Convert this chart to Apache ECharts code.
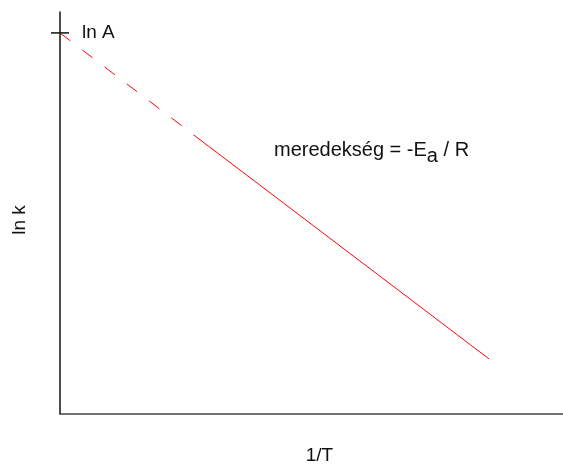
<!DOCTYPE html>
<html>
<head>
<meta charset="utf-8">
<script src="https://cdn.jsdelivr.net/npm/echarts@6/dist/echarts.min.js"></script>
<style>
  html, body { margin: 0; padding: 0; background: #fff; }
  #main { width: 563px; height: 465px; }
</style>
</head>
<body>
<div id="main"></div>
<script>
// Arrhenius-ábra adatai (tetszőleges egységek)
var lnA = 0.948;
var extrapolated = [[0, 0.948], [0.266, 0.694]];   // szaggatott rész
var measured = [[0.266, 0.694], [0.853, 0.137]];    // folytonos rész
var interceptPoint = [[0, lnA]];

var myChart = echarts.init(document.getElementById('main'));

var font = 'Liberation Sans, Arial, sans-serif';
var txt = '#111';

var option = {
    animation: false,
    grid: { left: 60, right: 0, top: 12, bottom: 51, outerBoundsMode: 'none', containLabel: false },
    xAxis: {
        type: 'value',
        min: 0,
        max: 1,
        name: '1/T',
        nameLocation: 'middle',
        nameGap: 32,
        nameTextStyle: { fontFamily: font, fontSize: 19, color: txt, padding: [0, 0, 0, 16] },
        axisLine: { show: true, lineStyle: { color: '#444', width: 1.5 } },
        axisTick: { show: false },
        axisLabel: { show: false },
        splitLine: { show: false }
    },
    yAxis: {
        type: 'value',
        min: 0,
        max: 1,
        name: 'ln k',
        nameLocation: 'middle',
        nameRotate: 90,
        nameGap: 31,
        nameTextStyle: { fontFamily: font, fontSize: 19, color: txt, padding: [0, 14, 0, 0] },
        axisLine: { show: true, lineStyle: { color: '#111', width: 1.5 } },
        axisTick: { show: false },
        axisLabel: { show: false },
        splitLine: { show: false }
    },
    series: [
        {
            type: 'line',
            data: extrapolated,
            symbol: 'none',
            lineStyle: { color: '#ff0000', width: 1, type: [13, 15] }
        },
        {
            type: 'line',
            data: measured,
            symbol: 'none',
            lineStyle: { color: '#ff0000', width: 1 }
        },
        {
            type: 'scatter',
            data: interceptPoint,
            symbol: 'rect',
            symbolSize: [18, 1.5],
            itemStyle: { color: '#111', opacity: 1 },
            emphasis: { disabled: true },
            label: {
                show: true,
                position: 'right',
                distance: 13,
                formatter: 'ln A',
                fontFamily: font,
                fontSize: 19,
                color: txt
            },
            z: 5
        }
    ],
    graphic: [
        {
            type: 'text',
            left: 274,
            top: 136,
            style: {
                text: '{n|meredekség = -E}{s|a}{n| / R}',
                font: '20px ' + font,
                fill: txt,
                rich: {
                    n: { fontFamily: font, fontSize: 20, color: txt, lineHeight: 22, verticalAlign: 'top' },
                    s: { fontFamily: font, fontSize: 20, color: txt, lineHeight: 22, padding: [10, 0, 0, 0] }
                }
            }
        }
    ]
};

myChart.setOption(option);
</script>
</body>
</html>
